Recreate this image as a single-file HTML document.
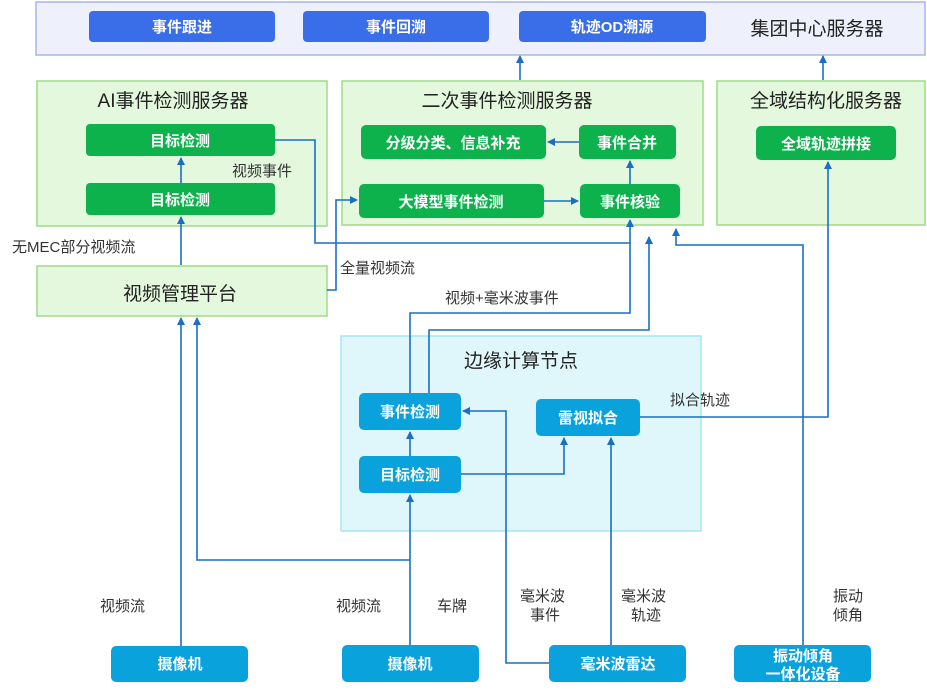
<!DOCTYPE html>
<html><head><meta charset="utf-8"><style>
body{margin:0;background:#fff;}
svg text{font-family:"Liberation Sans","Noto Sans CJK SC",sans-serif;}
</style></head><body>
<svg width="927" height="692" viewBox="0 0 927 692" xmlns="http://www.w3.org/2000/svg">
<defs>
<marker id="a" markerWidth="8" markerHeight="8" refX="7" refY="4" orient="auto" markerUnits="userSpaceOnUse">
<path d="M0,0 L8,4 L0,8 z" fill="#1a6fc4"/></marker>
</defs>
<!-- top server -->
<rect x="36" y="2" width="889" height="53" fill="#eef1fb" stroke="#a9b5ea" stroke-width="1.5"/>
<g fill="#3a6ee8"><rect x="89" y="11" width="186" height="31" rx="4"/><rect x="303" y="11" width="186" height="31" rx="4"/><rect x="519" y="11" width="187" height="31" rx="4"/></g>
<g fill="#fff" font-size="15" font-weight="bold" text-anchor="middle"><text x="182" y="32">事件跟进</text><text x="396" y="32">事件回溯</text><text x="612" y="32">轨迹OD溯源</text></g>
<text x="817" y="35" font-size="19" text-anchor="middle" fill="#222">集团中心服务器</text>
<!-- green servers -->
<g fill="#e3f8dd" stroke="#9edb88" stroke-width="1.5">
<rect x="37" y="81" width="290" height="145"/><rect x="342" y="81" width="361" height="144"/><rect x="717" y="81" width="208" height="144"/>
<rect x="37" y="266" width="290" height="50"/></g>
<g font-size="19" text-anchor="middle" fill="#222"><text x="173" y="107">AI事件检测服务器</text><text x="507" y="107">二次事件检测服务器</text><text x="826" y="107">全域结构化服务器</text><text x="180" y="300">视频管理平台</text></g>
<g fill="#0db24c">
<rect x="86" y="124" width="189" height="32" rx="4"/><rect x="86" y="183" width="189" height="32" rx="4"/>
<rect x="361" y="125" width="185" height="34" rx="5"/><rect x="579" y="125" width="97" height="34" rx="5"/>
<rect x="359" y="184" width="185" height="34" rx="5"/><rect x="580" y="184" width="100" height="34" rx="5"/>
<rect x="756" y="126" width="140" height="34" rx="5"/></g>
<g fill="#fff" font-size="15" font-weight="bold" text-anchor="middle"><text x="180" y="146">目标检测</text><text x="180" y="205">目标检测</text>
<text x="453" y="148">分级分类、信息补充</text><text x="627" y="148">事件合并</text><text x="451" y="207">大模型事件检测</text><text x="630" y="207">事件核验</text><text x="826" y="149">全域轨迹拼接</text></g>
<!-- edge node -->
<rect x="341" y="336" width="360" height="195" fill="#dff7fb" stroke="#a7e5f1" stroke-width="1.5"/>
<text x="521" y="367" font-size="19" text-anchor="middle" fill="#222">边缘计算节点</text>
<g fill="#0aa2dd">
<rect x="359" y="393" width="102" height="37" rx="5"/><rect x="359" y="456" width="102" height="37" rx="5"/><rect x="536" y="399" width="104" height="37" rx="5"/>
<rect x="111" y="646" width="137" height="36" rx="5"/><rect x="342" y="645" width="137" height="37" rx="5"/><rect x="549" y="645" width="137" height="37" rx="5"/><rect x="734" y="645" width="137" height="37" rx="5"/></g>
<g fill="#fff" font-size="15" font-weight="bold" text-anchor="middle"><text x="410" y="417">事件检测</text><text x="410" y="480">目标检测</text><text x="588" y="423">雷视拟合</text>
<text x="180" y="669">摄像机</text><text x="410" y="669">摄像机</text><text x="618" y="669">毫米波雷达</text><text x="803" y="661">振动倾角</text><text x="803" y="679">一体化设备</text></g>
<!-- connectors -->
<g fill="none" stroke="#1a6fc4" stroke-width="1.6">
<path d="M520,80 V56" marker-end="url(#a)"/><path d="M823,80 V56" marker-end="url(#a)"/>
<path d="M181,183 V158" marker-end="url(#a)"/><path d="M181,265 V217" marker-end="url(#a)"/>
<path d="M275,140 H315 V243 H630 V220" marker-end="url(#a)"/>
<path d="M410,393 V313 H630 V243"/>
<path d="M429,393 V330 H649 V237" marker-end="url(#a)"/>
<path d="M803,645 V245 H676 V229" marker-end="url(#a)"/>
<path d="M327,290 H336 V200 H357" marker-end="url(#a)"/>
<path d="M544,201 H578" marker-end="url(#a)"/>
<path d="M630,184 V161" marker-end="url(#a)"/>
<path d="M579,142 H548" marker-end="url(#a)"/>
<path d="M640,417 H828 V162" marker-end="url(#a)"/>
<path d="M181,646 V318" marker-end="url(#a)"/>
<path d="M410,560 H197 V318" marker-end="url(#a)"/>
<path d="M410,645 V495" marker-end="url(#a)"/>
<path d="M410,456 V432" marker-end="url(#a)"/>
<path d="M461,474 H564 V438" marker-end="url(#a)"/>
<path d="M549,663 H506 V411 H463" marker-end="url(#a)"/>
<path d="M611,645 V438" marker-end="url(#a)"/>
</g>
<!-- labels -->
<g font-size="15" fill="#333">
<text x="232" y="176">视频事件</text><text x="12" y="252">无MEC部分视频流</text><text x="340" y="273">全量视频流</text><text x="445" y="303">视频+毫米波事件</text>
<text x="670" y="405">拟合轨迹</text>
<text x="100" y="611">视频流</text><text x="336" y="611">视频流</text><text x="437" y="611">车牌</text>
<text x="520" y="601">毫米波</text><text x="530" y="620">事件</text>
<text x="621" y="601">毫米波</text><text x="631" y="620">轨迹</text>
<text x="833" y="601">振动</text><text x="833" y="620">倾角</text>
</g>
</svg>
</body></html>
